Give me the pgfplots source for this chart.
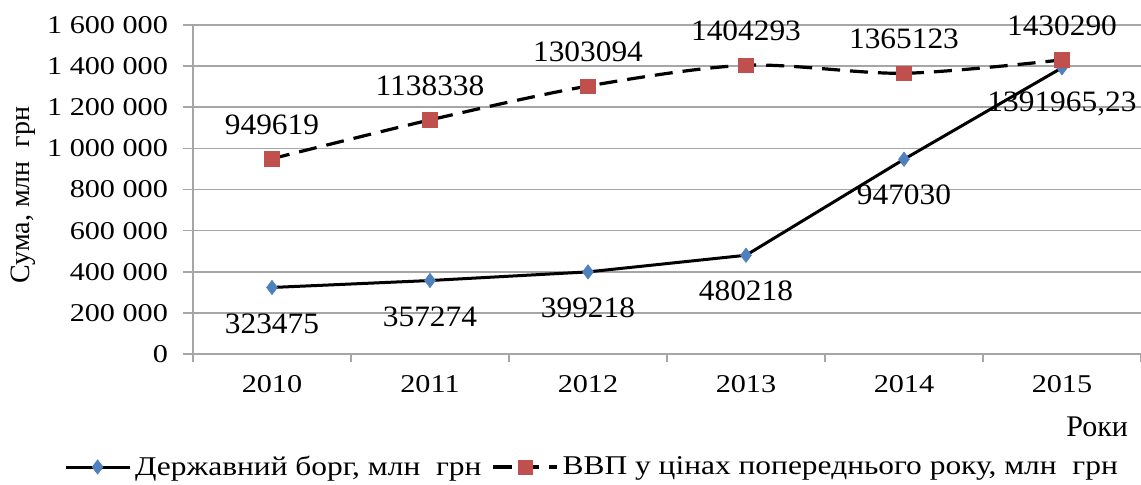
\documentclass[border=0pt]{standalone}
\usepackage{pgfplots}
\pgfplotsset{compat=1.18}
\usepackage{fontspec}
\setmainfont{Liberation Serif}
\newfontfamily\tickfont{Liberation Serif}[FakeStretch=1.18]
\newfontfamily\legfont{Liberation Serif}[FakeStretch=1.16]
\newfontfamily\lblfont{Liberation Serif}[FakeStretch=1.06]
\definecolor{debtblue}{HTML}{4F81BD}
\definecolor{gdpred}{HTML}{C0504D}
\definecolor{gridgray}{HTML}{A6A6A6}

\begin{document}
\begin{tikzpicture}
\begin{axis}[
  at={(0pt,0pt)}, anchor=south west,
  scale only axis, width=474pt, height=164.5pt,
  xmin=-0.5, xmax=5.5, ymin=0, ymax=1600000,
  axis x line*=bottom, axis y line*=left,
  axis line style={draw=gridgray, line width=0.8pt},
  tick align=outside,
  xtick={0,1,2,3,4,5},
  xticklabels={2010,2011,2012,2013,2014,2015},
  major x tick style={draw=none},
  minor xtick={-0.5,0.5,1.5,2.5,3.5,4.5,5.5},
  minor x tick style={draw=gridgray, line width=0.8pt},
  minor tick length=4pt,
  ytick={0,200000,400000,600000,800000,1000000,1200000,1400000,1600000},
  yticklabels={0,200~000,400~000,600~000,800~000,1~000~000,1~200~000,1~400~000,1~600~000},
  scaled y ticks=false,
  y tick style={draw=gridgray, line width=0.8pt},
  major tick length=5pt,
  ymajorgrids, grid style={draw=gridgray, line width=0.8pt},
  tick label style={font=\tickfont\fontsize{12.8}{15}\selectfont},
  xticklabel style={yshift=-2pt},
  yticklabel style={xshift=-4pt},
  xlabel={Роки},
  xlabel style={at={(axis description cs:0.9937,-0.2219)}, anchor=east, font=\fontsize{15}{18}\selectfont},
  ylabel={Сума, млн~~грн},
  ylabel style={at={(axis description cs:-0.1793,0.4833)}, anchor=center, font=\fontsize{14}{17}\selectfont},
  legend style={at={(axis description cs:-0.1427,-0.3435)}, anchor=west, draw=none, fill=none,
    legend columns=2, font=\legfont\fontsize{13.55}{16}\selectfont,
    /tikz/every even column/.append style={column sep=3pt}},
  legend image code/.code={
    \draw[mark repeat=2,mark phase=2] plot coordinates {(0pt,0pt) (16pt,0pt) (32pt,0pt)};
  },
  nodes near coords, point meta=explicit symbolic,
  clip=false,
]
\addplot[black, line width=1.5pt, mark=diamond*, mark size=3.6pt,
  mark options={solid, fill=debtblue, draw=debtblue, line width=0.3pt},
  every node near coord/.append style={anchor=center, yshift=-18pt, text=black, font=\lblfont\fontsize{14.8}{17}\selectfont}]
coordinates {
  (0,323475) [323475]
  (1,357274) [357274]
  (2,399218) [399218]
  (3,480218) [480218]
  (4,947030) [947030]
  (5,1391965.23) [1391965,23]
};
\addlegendentry{Державний борг, млн~~грн}
\addplot[black, line width=1.6pt, dash pattern=on 9pt off 5pt, smooth, mark=square*, mark size=3.6pt,
  mark options={solid, fill=gdpred, draw=gdpred, line width=0.3pt},
  every node near coord/.append style={anchor=center, yshift=17pt, text=black, font=\lblfont\fontsize{14.8}{17}\selectfont}]
coordinates {
  (0,949619) [949619]
  (1,1138338) [1138338]
  (2,1303094) [1303094]
  (3,1404293) [1404293]
  (4,1365123) [1365123]
  (5,1430290) [1430290]
};
\addlegendentry{ВВП у цінах попереднього року, млн~~грн}
\end{axis}
\pgfresetboundingbox
\path[use as bounding box] (-96.5pt,-65.5pt) rectangle (474pt,177pt);
\end{tikzpicture}
\end{document}
